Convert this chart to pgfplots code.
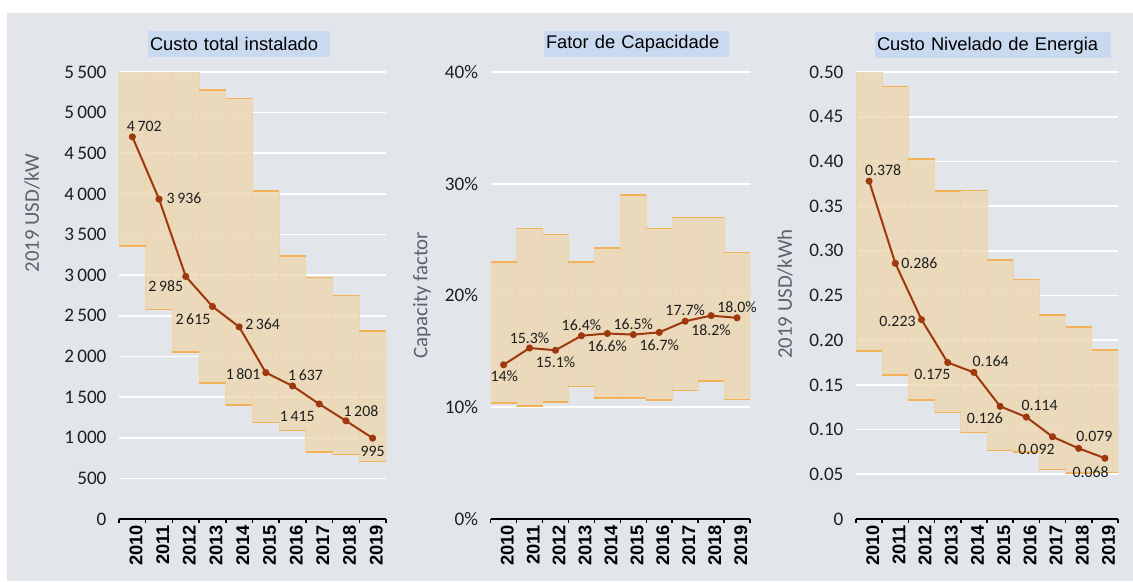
\documentclass[border=0pt]{standalone}
\usepackage{fontspec}
\setmainfont{Carlito}
\newfontfamily\arialf{Liberation Sans}
\usepackage{pgfplots}
\usepackage{pgfplotstable}
\pgfplotsset{compat=1.18}

\definecolor{bggray}{RGB}{226,230,235}
\definecolor{titlebg}{RGB}{201,217,240}
\definecolor{barfill}{RGB}{236,215,176}
\definecolor{baredge}{RGB}{238,212,170}
\definecolor{edgeor}{RGB}{242,178,90}
\definecolor{lineC}{RGB}{158,56,14}
\definecolor{ylabC}{RGB}{90,98,110}
\definecolor{tickC}{RGB}{30,30,30}

% x = bar centre, lo/hi = range, v = weighted average, lab = label, dx/dy = label offset (px)
\pgfplotstableread[col sep=comma]{
x,lo,hi,v,lab,dx,dy
0.5,3360,5600,4702,4\,702,12,10
1.5,2575,5600,3936,3\,936,25,1
2.5,2055,5600,2985,2\,985,-20,-10
3.5,1673,5280,2615,2\,615,-19.5,-12.5
4.5,1403,5176,2364,2\,364,23.5,3
5.5,1185,4036,1801,1\,801,-22.7,-1.5
6.5,1087,3236,1637,1\,637,13,10.7
7.5,824,2974,1415,1\,415,-22,-12
8.5,791,2752,1208,1\,208,15,10
9.5,705,2313,995,995,0,-13.5
}\tabA

\pgfplotstableread[col sep=comma]{
x,lo,hi,v,lab,dx,dy
0.5,10.4,23.0,13.8,14\%,0.7,-11.4
1.5,10.1,26.0,15.3,15.3\%,0,10
2.5,10.45,25.45,15.1,15.1\%,0,-11.7
3.5,11.85,23.0,16.4,16.4\%,0,10.3
4.5,10.83,24.23,16.6,16.6\%,0,-12.3
5.5,10.83,29.0,16.5,16.5\%,0,10
6.5,10.65,26.0,16.7,16.7\%,0,-13
7.5,11.49,27.0,17.7,17.7\%,0,11.3
8.5,12.35,27.0,18.2,18.2\%,0,-14.7
9.5,10.68,23.87,18.0,18.0\%,0,11
}\tabB

\pgfplotstableread[col sep=comma]{
x,lo,hi,v,lab,dx,dy
0.5,0.188,0.51,0.378,0.378,14,11
1.5,0.161,0.484,0.286,0.286,24,0
2.5,0.133,0.4026,0.223,0.223,-24,-2
3.5,0.1194,0.3668,0.175,0.175,-15.3,-11.7
4.5,0.097,0.3675,0.164,0.164,16.7,11.3
5.5,0.0769,0.2895,0.126,0.126,-15.3,-12
6.5,0.075,0.268,0.114,0.114,13.3,11.7
7.5,0.0556,0.2283,0.092,0.092,-16,-12.3
8.5,0.0515,0.2145,0.079,0.079,15.7,11.7
9.5,0.0518,0.189,0.068,0.068,-14.3,-13.7
}\tabC

\pgfplotsset{
  base/.style={
    scale only axis, anchor=south west, height=268.2pt,
    xmin=0, xmax=10, enlargelimits=false,
    ybar stacked, bar width=1,
    axis x line*=bottom, axis y line*=left,
    y axis line style={draw=none},
    x axis line style={black, line width=1.2pt},
    xtick={0.5,1.5,...,9.5},
    xticklabels={2010,2011,2012,2013,2014,2015,2016,2017,2018,2019},
    minor xtick={0,1,...,10},
    major x tick style={draw=none},
    minor x tick style={black, line width=0.9pt},
    minor tick length=2.4pt, major tick length=0pt,
    tick align=outside,
    ytick style={draw=none},
    ymajorgrids, grid style={white, line width=1pt},
    scaled y ticks=false,
    /pgf/number format/assume math mode=true,
    /pgf/number format/1000 sep={\,},
    xticklabel style={rotate=90, anchor=east, text=black, yshift=-2.2pt,
      font=\arialf\bfseries\fontsize{11}{11}\selectfont},
    yticklabel style={text=tickC, xshift=-4pt,
      font=\fontsize{11.5}{12}\selectfont},
  },
  bars/.style={fill=barfill, fill opacity=0.8, draw=baredge, line width=0.5pt},
  over/.style={
    scale only axis, anchor=south west, height=268.2pt,
    xmin=0, xmax=10, enlargelimits=false, hide axis, clip=false,
  },
  edge/.style={only marks, mark=-, mark size=#1,
    mark options={draw=edgeor, line width=0.9pt}},
  avg/.style={lineC, line width=1.2pt, mark=*, mark size=1.5pt,
    mark options={fill=lineC, draw=lineC},
    point meta=explicit symbolic, nodes near coords,
    visualization depends on={\thisrow{dx} \as \ldx},
    visualization depends on={\thisrow{dy} \as \ldy},
    nodes near coords style={anchor=center, inner sep=0pt, text=tickC,
      xshift=\ldx*0.6pt, yshift=\ldy*0.6pt,
      font=\fontsize{9.5}{10}\selectfont}},
}

\begin{document}
\begin{tikzpicture}
\fill[white] (0,0) rectangle (679.8pt,348.6pt);
\fill[bggray] (4.2pt,0) rectangle (679.8pt,340.8pt);

% ---- Custo total instalado
\begin{axis}[base, at={(71.4pt,37.2pt)}, width=160.2pt,
  ymin=0, ymax=5500, ytick={0,500,...,5500}]
\addplot[draw=none, fill=none] table[x=x, y=lo]{\tabA};
\addplot[bars] table[x=x, y expr=\thisrow{hi}-\thisrow{lo}]{\tabA};
\end{axis}
\begin{axis}[over, at={(71.4pt,37.2pt)}, width=160.2pt, ymin=0, ymax=5500]
\addplot[edge=8pt, restrict y to domain=0:5500] table[x=x, y=hi]{\tabA};
\addplot[edge=8pt] table[x=x, y=lo]{\tabA};
\addplot[avg] table[x=x, y=v, meta=lab]{\tabA};
\end{axis}

% ---- Fator de Capacidade
\begin{axis}[base, at={(294.4pt,37.2pt)}, width=155.6pt,
  ymin=0, ymax=40, ytick={0,10,20,30,40},
  yticklabels={0\%,10\%,20\%,30\%,40\%}]
\addplot[draw=none, fill=none] table[x=x, y=lo]{\tabB};
\addplot[bars] table[x=x, y expr=\thisrow{hi}-\thisrow{lo}]{\tabB};
\end{axis}
\begin{axis}[over, at={(294.4pt,37.2pt)}, width=155.6pt, ymin=0, ymax=40]
\addplot[edge=7.77pt] table[x=x, y=hi]{\tabB};
\addplot[edge=7.77pt] table[x=x, y=lo]{\tabB};
\addplot[avg] table[x=x, y=v, meta=lab]{\tabB};
\end{axis}

% ---- Custo Nivelado de Energia
\begin{axis}[base, at={(513.6pt,37.2pt)}, width=157.2pt,
  ymin=0, ymax=0.5,
  ytick={0,0.05,0.1,0.15,0.2,0.25,0.3,0.35,0.4,0.45,0.5},
  yticklabels={0,0.05,0.10,0.15,0.20,0.25,0.30,0.35,0.40,0.45,0.50}]
\addplot[draw=none, fill=none] table[x=x, y=lo]{\tabC};
\addplot[bars] table[x=x, y expr=\thisrow{hi}-\thisrow{lo}]{\tabC};
\end{axis}
\begin{axis}[over, at={(513.6pt,37.2pt)}, width=157.2pt, ymin=0, ymax=0.5]
\addplot[edge=7.86pt, restrict y to domain=0:0.5] table[x=x, y=hi]{\tabC};
\addplot[edge=7.86pt] table[x=x, y=lo]{\tabC};
\addplot[avg] table[x=x, y=v, meta=lab]{\tabC};
\end{axis}

% titles
\begin{scope}[every node/.style={fill=titlebg, anchor=west, align=left,
    minimum height=15.6pt, inner xsep=1pt, inner ysep=0pt,
    font=\arialf\fontsize{11}{13}\selectfont}]
\node[text width=107.2pt] at (88.8pt,322.2pt) {Custo total instalado};
\node[text width=108.8pt] at (326.4pt,322.2pt) {Fator de Capacidade};
\node[text width=139.6pt] at (525pt,321.3pt) {Custo Nivelado de Energia};
\end{scope}

% y-axis titles
\begin{scope}[every node/.style={rotate=90, text=ylabC,
    font=\fontsize{12.5}{13}\selectfont}]
\node at (19.2pt,220.8pt) {2019 USD/kW};
\node at (253.2pt,171.6pt) {Capacity factor};
\node at (471pt,172.2pt) {2019 USD/kWh};
\end{scope}

\pgfresetboundingbox
\useasboundingbox (0,0) rectangle (679.8pt,348.6pt);
\end{tikzpicture}
\end{document}
